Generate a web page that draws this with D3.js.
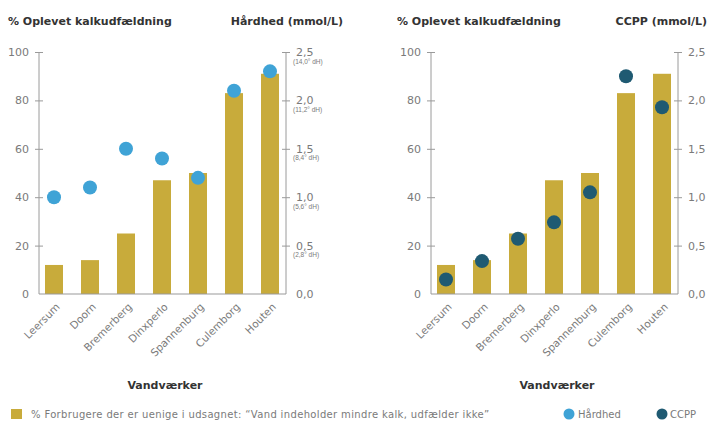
<!DOCTYPE html>
<html>
<head>
<meta charset="utf-8">
<script src="https://cdn.jsdelivr.net/npm/d3@7"></script>
<style>
  body { margin: 0; background: #fff; }
  svg { display: block; font-family: "DejaVu Sans", sans-serif; }
</style>
</head>
<body>
<svg id="chart" width="709" height="423"></svg>
<script>
const categories = ["Leersum", "Doorn", "Bremerberg", "Dinxperlo", "Spannenburg", "Culemborg", "Houten"];
const pctValues = [12, 14, 25, 47, 50, 83, 91];
const hardness = [1.0, 1.1, 1.5, 1.4, 1.2, 2.1, 2.3];
const ccpp = [0.15, 0.34, 0.57, 0.74, 1.05, 2.25, 1.93];
const leftTicks = [0, 20, 40, 60, 80, 100];
const rightTicks = [0, 0.5, 1.0, 1.5, 2.0, 2.5];
const dhLabels = ["", "(2,8° dH)", "(5,6° dH)", "(8,4° dH)", "(11,2° dH)", "(14,0° dH)"];

const GOLD = "#c8ab3b";
const BLUE = "#3fa3d6";
const TEAL = "#1f5a72";
const AXIS = "#9a9a9a";
const TEXT = "#7a7a7a";
const TITLE = "#333";

const svg = d3.select("#chart");
const fmt = d3.formatLocale({ decimal: ",", thousands: ".", grouping: [3], currency: ["", ""] }).format(".1f");

const yTop = 52, yBottom = 294;
const yLeft = d3.scaleLinear().domain([0, 100]).range([yBottom, yTop]);
const yRight = d3.scaleLinear().domain([0, 2.5]).range([yBottom, yTop]);

function drawPanel(offsetX, dots, dotColor, titles, showDh) {
  const g = svg.append("g").attr("transform", `translate(${offsetX},0)`);
  const axL = 39, axR = 286;

  const x = d3.scaleBand().domain(categories).range([36, 288])
    .paddingInner(0.5).paddingOuter(0.25);

  // bars
  g.selectAll("rect.bar")
    .data(categories)
    .join("rect")
    .attr("class", "bar")
    .attr("x", (d) => x(d))
    .attr("width", x.bandwidth())
    .attr("y", (d, i) => yLeft(pctValues[i]))
    .attr("height", (d, i) => yBottom - yLeft(pctValues[i]))
    .attr("fill", GOLD);

  // baseline
  g.append("line")
    .attr("x1", axL).attr("x2", axR)
    .attr("y1", yBottom).attr("y2", yBottom)
    .attr("stroke", AXIS).attr("stroke-width", 1.2);

  // left axis
  const left = g.append("g")
    .attr("transform", `translate(${axL},0)`)
    .call(d3.axisLeft(yLeft).tickValues(leftTicks).tickSize(4).tickPadding(6));
  left.select(".domain").attr("stroke", AXIS).attr("d", `M0,${yTop}V${yBottom}`);
  left.selectAll(".tick line").attr("stroke", AXIS).attr("x1", -4).attr("x2", 4);
  left.selectAll(".tick text")
    .attr("fill", TEXT).attr("font-size", 11).attr("font-family", "DejaVu Sans");
  left.select(".tick:first-of-type line").remove();

  // right axis
  const right = g.append("g")
    .attr("transform", `translate(${axR},0)`)
    .call(d3.axisRight(yRight).tickValues(rightTicks).tickFormat(fmt).tickSize(4).tickPadding(6));
  right.select(".domain").attr("stroke", AXIS).attr("d", `M0,${yTop}V${yBottom}`);
  right.selectAll(".tick line").attr("stroke", AXIS).attr("x1", -4).attr("x2", 4);
  right.selectAll(".tick text")
    .attr("fill", TEXT).attr("font-size", 11).attr("font-family", "DejaVu Sans");
  right.select(".tick:first-of-type line").remove();

  if (showDh) {
    right.selectAll(".tick")
      .append("text")
      .attr("x", 7)
      .attr("y", 11)
      .attr("fill", TEXT)
      .attr("font-size", 6.5)
      .attr("text-anchor", "start")
      .text((d, i) => dhLabels[i]);
  }

  // x labels
  g.selectAll("text.xlab")
    .data(categories)
    .join("text")
    .attr("class", "xlab")
    .attr("transform", (d) => `translate(${x(d) + x.bandwidth() / 2 + 4},${yBottom + 11}) rotate(-45)`)
    .attr("text-anchor", "end")
    .attr("dy", "0.35em")
    .attr("fill", TEXT)
    .attr("font-size", 10.5)
    .text((d) => d);

  // dots
  g.selectAll("circle.dot")
    .data(dots)
    .join("circle")
    .attr("class", "dot")
    .attr("cx", (d, i) => x(categories[i]) + x.bandwidth() / 2)
    .attr("cy", (d) => yRight(d))
    .attr("r", 7)
    .attr("fill", dotColor);

  // titles
  g.append("text")
    .attr("x", titles.leftX).attr("y", 25)
    .attr("font-size", 11).attr("font-weight", "bold").attr("fill", TITLE)
    .text("% Oplevet kalkudfældning");
  g.append("text")
    .attr("x", titles.rightX).attr("y", 25)
    .attr("text-anchor", "end")
    .attr("font-size", 11).attr("font-weight", "bold").attr("fill", TITLE)
    .text(titles.right);

  g.append("text")
    .attr("x", 165).attr("y", 389)
    .attr("text-anchor", "middle")
    .attr("font-size", 11).attr("font-weight", "bold").attr("fill", TITLE)
    .text("Vandværker");
}

drawPanel(0, hardness, BLUE, { leftX: 8, right: "Hårdhed (mmol/L)", rightX: 343 }, true);
drawPanel(392, ccpp, TEAL, { leftX: 5, right: "CCPP (mmol/L)", rightX: 315 }, false);

// legend
const legend = svg.append("g").attr("font-size", 10).attr("fill", TEXT);
legend.append("rect").attr("x", 11).attr("y", 409).attr("width", 11).attr("height", 10).attr("fill", GOLD);
legend.append("text").attr("x", 31).attr("y", 418)
  .attr("letter-spacing", 0.35)
  .text("% Forbrugere der er uenige i udsagnet: \u201cVand indeholder mindre kalk, udfælder ikke\u201d");
legend.append("circle").attr("cx", 569).attr("cy", 414).attr("r", 5.5).attr("fill", BLUE);
legend.append("text").attr("x", 578).attr("y", 418).text("Hårdhed");
legend.append("circle").attr("cx", 662).attr("cy", 414).attr("r", 5.5).attr("fill", TEAL);
legend.append("text").attr("x", 670).attr("y", 418).text("CCPP");
</script>
</body>
</html>
